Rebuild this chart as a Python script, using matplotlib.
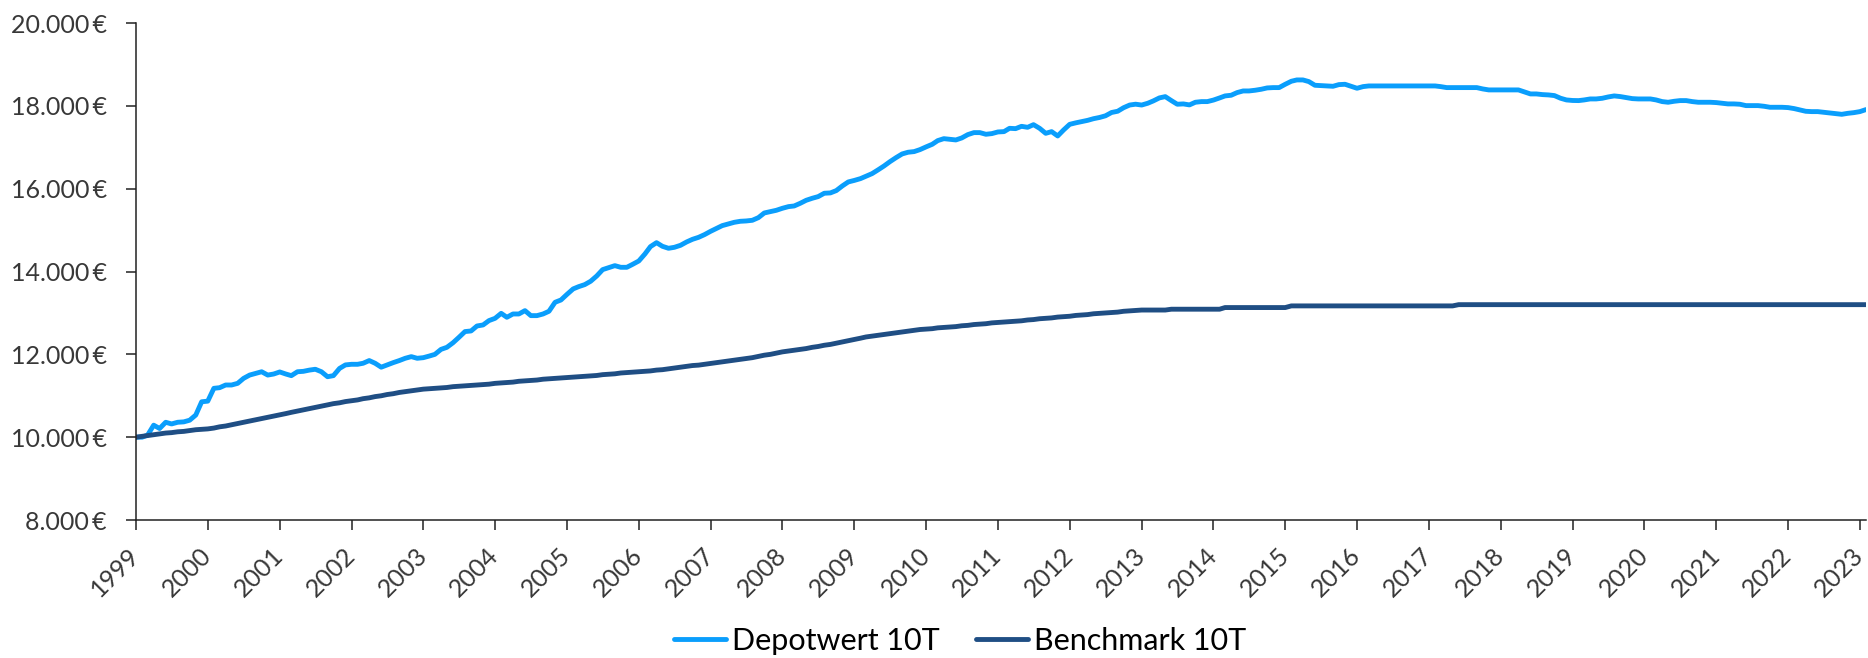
import numpy as np
import pandas as pd
import matplotlib
matplotlib.use('Agg')
import matplotlib.pyplot as plt
import matplotlib.dates as mdates
from matplotlib.ticker import FuncFormatter

# monthly values, Jan 1999 .. Feb 2023
depotwert = [
    10000, 10000, 10050, 10290, 10210, 10360, 10320, 10360, 10370, 10410, 10535, 10855,  # 1999
    10870, 11180, 11195, 11260, 11260, 11300, 11420, 11500, 11540, 11580, 11500, 11525,  # 2000
    11575, 11525, 11486, 11580, 11590, 11620, 11640, 11580, 11460, 11486, 11660, 11745,  # 2001
    11760, 11760, 11785, 11850, 11785, 11690, 11745, 11800, 11850, 11905, 11945, 11905,  # 2002
    11920, 11960, 12000, 12120, 12170, 12280, 12410, 12550, 12565, 12685, 12710, 12815,  # 2003
    12870, 12990, 12895, 12975, 12975, 13056, 12935, 12935, 12975, 13040, 13257, 13313,  # 2004
    13450, 13580, 13635, 13684, 13765, 13893, 14046, 14094, 14142, 14102, 14102, 14175,  # 2005
    14255, 14424, 14601, 14697, 14609, 14561, 14585, 14633, 14714, 14778, 14826, 14891,  # 2006
    14971, 15043, 15108, 15148, 15188, 15213, 15221, 15237, 15301, 15414, 15446, 15478,  # 2007
    15527, 15567, 15583, 15648, 15720, 15769, 15809, 15890, 15898, 15954, 16067, 16163,  # 2008
    16200, 16243, 16300, 16364, 16453, 16549, 16653, 16750, 16839, 16880, 16896, 16944,  # 2009
    17010, 17072, 17161, 17208, 17193, 17177, 17225, 17306, 17354, 17354, 17314, 17330,  # 2010
    17370, 17378, 17458, 17450, 17506, 17482, 17546, 17458, 17337, 17378, 17273, 17418,  # 2011
    17554, 17590, 17620, 17650, 17690, 17720, 17760, 17840, 17870, 17955, 18020, 18040,  # 2012
    18020, 18063, 18119, 18192, 18223, 18127, 18039, 18047, 18023, 18087, 18103, 18103,  # 2013
    18140, 18191, 18240, 18256, 18320, 18360, 18360, 18377, 18401, 18433, 18441, 18441,  # 2014
    18521, 18594, 18626, 18626, 18586, 18497, 18489, 18481, 18473, 18513, 18521, 18473,  # 2015
    18425, 18465, 18481, 18481, 18481, 18481, 18481, 18481, 18481, 18481, 18481, 18481,  # 2016
    18481, 18481, 18465, 18441, 18441, 18441, 18441, 18441, 18441, 18409, 18385, 18385,  # 2017
    18385, 18385, 18385, 18385, 18336, 18288, 18288, 18272, 18264, 18248, 18184, 18143,  # 2018
    18130, 18127, 18143, 18167, 18167, 18183, 18215, 18240, 18224, 18200, 18175, 18167,  # 2019
    18167, 18167, 18143, 18103, 18087, 18111, 18127, 18127, 18103, 18087, 18087, 18087,  # 2020
    18079, 18063, 18047, 18047, 18039, 18006, 18006, 18006, 17990, 17966, 17966, 17966,  # 2021
    17958, 17934, 17902, 17869, 17861, 17861, 17845, 17829, 17813, 17796, 17820, 17836,  # 2022
    17861, 17910,                                                                        # 2023
]

benchmark = [
    10000, 10020, 10040, 10060, 10080, 10100, 10110, 10130, 10140, 10160, 10180, 10190,  # 1999
    10200, 10220, 10250, 10270, 10300, 10330, 10360, 10390, 10420, 10450, 10480, 10510,  # 2000
    10540, 10570, 10600, 10630, 10660, 10690, 10720, 10750, 10780, 10810, 10830, 10860,  # 2001
    10880, 10900, 10930, 10950, 10980, 11000, 11030, 11050, 11080, 11100, 11120, 11140,  # 2002
    11160, 11170, 11180, 11190, 11200, 11220, 11230, 11240, 11250, 11260, 11270, 11280,  # 2003
    11300, 11310, 11320, 11330, 11350, 11360, 11370, 11380, 11400, 11410, 11420, 11430,  # 2004
    11440, 11450, 11460, 11470, 11480, 11490, 11510, 11520, 11530, 11550, 11560, 11570,  # 2005
    11580, 11590, 11600, 11620, 11630, 11650, 11670, 11690, 11710, 11730, 11740, 11760,  # 2006
    11780, 11800, 11820, 11840, 11860, 11880, 11900, 11920, 11950, 11980, 12000, 12030,  # 2007
    12060, 12080, 12100, 12120, 12140, 12170, 12190, 12220, 12240, 12270, 12300, 12330,  # 2008
    12360, 12390, 12420, 12440, 12460, 12480, 12500, 12520, 12540, 12560, 12580, 12600,  # 2009
    12610, 12620, 12640, 12650, 12660, 12670, 12690, 12700, 12720, 12730, 12740, 12760,  # 2010
    12770, 12780, 12790, 12800, 12810, 12830, 12840, 12860, 12870, 12880, 12900, 12910,  # 2011
    12920, 12940, 12950, 12960, 12980, 12990, 13000, 13010, 13020, 13040, 13050, 13060,  # 2012
    13070, 13070, 13070, 13070, 13070, 13090, 13090, 13090, 13090, 13090, 13090, 13090,  # 2013
    13090, 13090, 13130, 13130, 13130, 13130, 13130, 13130, 13130, 13130, 13130, 13130,  # 2014
    13130, 13170, 13170, 13170, 13170, 13170, 13170, 13170, 13170, 13170, 13170, 13170,  # 2015
    13170, 13170, 13170, 13170, 13170, 13170, 13170, 13170, 13170, 13170, 13170, 13170,  # 2016
    13170, 13170, 13170, 13170, 13170, 13200, 13200, 13200, 13200, 13200, 13200, 13200,  # 2017
    13200, 13200, 13200, 13200, 13200, 13200, 13200, 13200, 13200, 13200, 13200, 13200,  # 2018
    13200, 13200, 13200, 13200, 13200, 13200, 13200, 13200, 13200, 13200, 13200, 13200,  # 2019
    13200, 13200, 13200, 13200, 13200, 13200, 13200, 13200, 13200, 13200, 13200, 13200,  # 2020
    13200, 13200, 13200, 13200, 13200, 13200, 13200, 13200, 13200, 13200, 13200, 13200,  # 2021
    13200, 13200, 13200, 13200, 13200, 13200, 13200, 13200, 13200, 13200, 13200, 13200,  # 2022
    13200, 13200,                                                                        # 2023
]

series_names = ['Depotwert 10T', 'Benchmark 10T']
years = list(range(1999, 2024))
y_ticks = [8000, 10000, 12000, 14000, 16000, 18000, 20000]

dates = pd.date_range('1999-01-01', periods=len(depotwert), freq='MS')

plt.rcParams['font.family'] = ['Lato', 'DejaVu Sans']

fig = plt.figure(figsize=(18.68, 6.58), dpi=100)
ax = fig.add_axes([0.0728, 0.2097, 0.9261, 0.7553])

ax.plot(dates, depotwert, color='#0A9EFC', lw=3.5, label=series_names[0], solid_capstyle='round')
ax.plot(dates, benchmark, color='#1F4E84', lw=3.5, label=series_names[1], solid_capstyle='round')

ax.set_xlim(dates[0], dates[-1])
ax.set_ylim(8000, 20000)
ax.set_yticks(y_ticks)
ax.yaxis.set_major_formatter(FuncFormatter(lambda v, p: f'{int(v):,}'.replace(',', '.') + '\u2009€'))

ax.set_xticks([pd.Timestamp(f'{y}-01-01') for y in years])
ax.set_xticklabels([str(y) for y in years], rotation=45, ha='right', va='center',
                   rotation_mode='anchor')

for s in ['top', 'right']:
    ax.spines[s].set_visible(False)
for s in ['left', 'bottom']:
    ax.spines[s].set_color('#222222')
    ax.spines[s].set_linewidth(1.1)

ax.tick_params(axis='both', direction='out', length=7, width=1.1, color='#222222',
               labelsize=18, labelcolor='#383838')
ax.tick_params(axis='x', pad=16)
ax.tick_params(axis='y', pad=14)

fig.legend(loc='center', bbox_to_anchor=(0.514, 0.026), ncol=2, frameon=False,
           fontsize=22, handlelength=1.7, handletextpad=0.2, columnspacing=1.2)

fig.savefig('out.png', dpi=100)
